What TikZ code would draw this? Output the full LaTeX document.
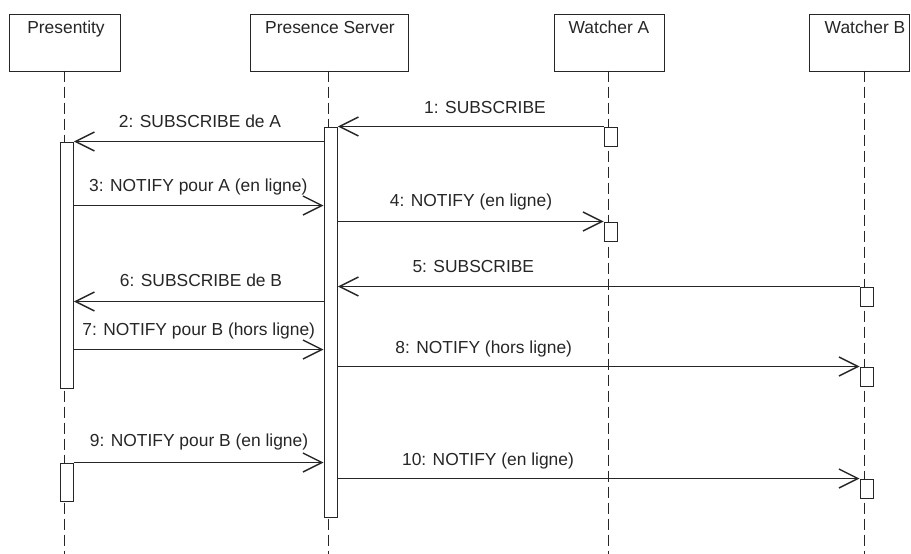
\documentclass[tikz,border=0pt]{standalone}
\usepackage{fontspec}
\setmainfont{Liberation Sans}
\usetikzlibrary{arrows.meta}
\definecolor{ink}{gray}{0.15}
\begin{document}
\begin{tikzpicture}[x=1pt,y=-1pt,
  actor/.style={draw=ink, line width=1.4pt, fill=white, minimum height=57, inner sep=0pt, anchor=north},
  ttl/.style={text=ink, anchor=base, inner sep=0pt, font=\fontsize{17.4}{20}\selectfont},
  lifeline/.style={draw=ink, line width=1.3pt, dash pattern=on 11pt off 5pt},
  bar/.style={draw=ink, line width=1.4pt, fill=white, inner sep=0pt, minimum width=13, anchor=north west},
  msg/.style={draw=ink, line width=1.4pt, -{Straight Barb[length=19pt,width=19pt,line width=1.4pt]}},
  lbl/.style={text=ink, anchor=base, inner sep=0pt, font=\fontsize{17.4}{20}\selectfont}]
\useasboundingbox (0,0) rectangle (911,554);
% actors
\node[actor, minimum width=111] (pres) at (65,13.5) {};
\node[actor, minimum width=158] (ps) at (329.5,13.5) {};
\node[actor, minimum width=110] (wa) at (609.5,13.5) {};
\node[actor, minimum width=100] (wb) at (859.5,13.5) {};
\node[ttl] (tpres) at (66,33) {Presentity};
\node[ttl] (tps) at (330,33) {Presence Server};
\node[ttl] (twa) at (609,33) {Watcher A};
\node[ttl] (twb) at (865,33) {Watcher B};
% lifelines
\coordinate (lpres) at (64.5,70.5);
\coordinate (lps) at (328.5,70.5);
\coordinate (lwa) at (608.5,70.5);
\coordinate (lwb) at (864.5,70.5);
\coordinate (epres) at (64.5,554);
\coordinate (eps) at (328.5,554);
\coordinate (ewa) at (608.5,554);
\coordinate (ewb) at (864.5,554);
\draw[lifeline] (lpres) -- (epres);
\draw[lifeline] (lps) -- (eps);
\draw[lifeline] (lwa) -- (ewa);
\draw[lifeline] (lwb) -- (ewb);
% activation bars
\node[bar, minimum height=246] (pb1) at (59.5,141.5) {};
\node[bar, minimum height=38] (pb2) at (59.5,462.5) {};
\node[bar, minimum height=390] (psb) at (323.5,126.5) {};
\node[bar, minimum height=19] (wa1) at (603.5,126.5) {};
\node[bar, minimum height=19] (wa2) at (603.5,221.5) {};
\node[bar, minimum height=19] (wb1) at (859.5,286.5) {};
\node[bar, minimum height=19] (wb2) at (859.5,366.5) {};
\node[bar, minimum height=19] (wb3) at (859.5,478.5) {};
% messages
\draw[msg] (wa1.north west) -- (psb.east |- wa1.north west);
\draw[msg] (psb.west |- pb1.north) -- (pb1.north east);
\draw[msg] (pb1.east |- 0,205.5) -- (psb.west |- 0,205.5);
\draw[msg] (psb.east |- wa2.north) -- (wa2.north west);
\draw[msg] (wb1.north west) -- (psb.east |- wb1.north west);
\draw[msg] (psb.west |- 0,301.5) -- (pb1.east |- 0,301.5);
\draw[msg] (pb1.east |- 0,349.5) -- (psb.west |- 0,349.5);
\draw[msg] (psb.east |- wb2.north) -- (wb2.north west);
\draw[msg] (pb2.north east) -- (psb.west |- pb2.north);
\draw[msg] (psb.east |- wb3.north) -- (wb3.north west);
% labels
\node[lbl] (l1) at (485,113.3) {1: SUBSCRIBE};
\node[lbl] (l2) at (200,127.3) {2: SUBSCRIBE de A};
\node[lbl] (l3) at (198.3,191) {3: NOTIFY pour A (en ligne)};
\node[lbl] (l4) at (471,206.7) {4: NOTIFY (en ligne)};
\node[lbl] (l5) at (473.3,272.7) {5: SUBSCRIBE};
\node[lbl] (l6) at (201,286) {6: SUBSCRIBE de B};
\node[lbl] (l7) at (198.7,335) {7: NOTIFY pour B (hors ligne)};
\node[lbl] (l8) at (483.7,353.3) {8: NOTIFY (hors ligne)};
\node[lbl] (l9) at (199,446) {9: NOTIFY pour B (en ligne)};
\node[lbl] (l10) at (488,465) {10: NOTIFY (en ligne)};
\end{tikzpicture}
\end{document}
